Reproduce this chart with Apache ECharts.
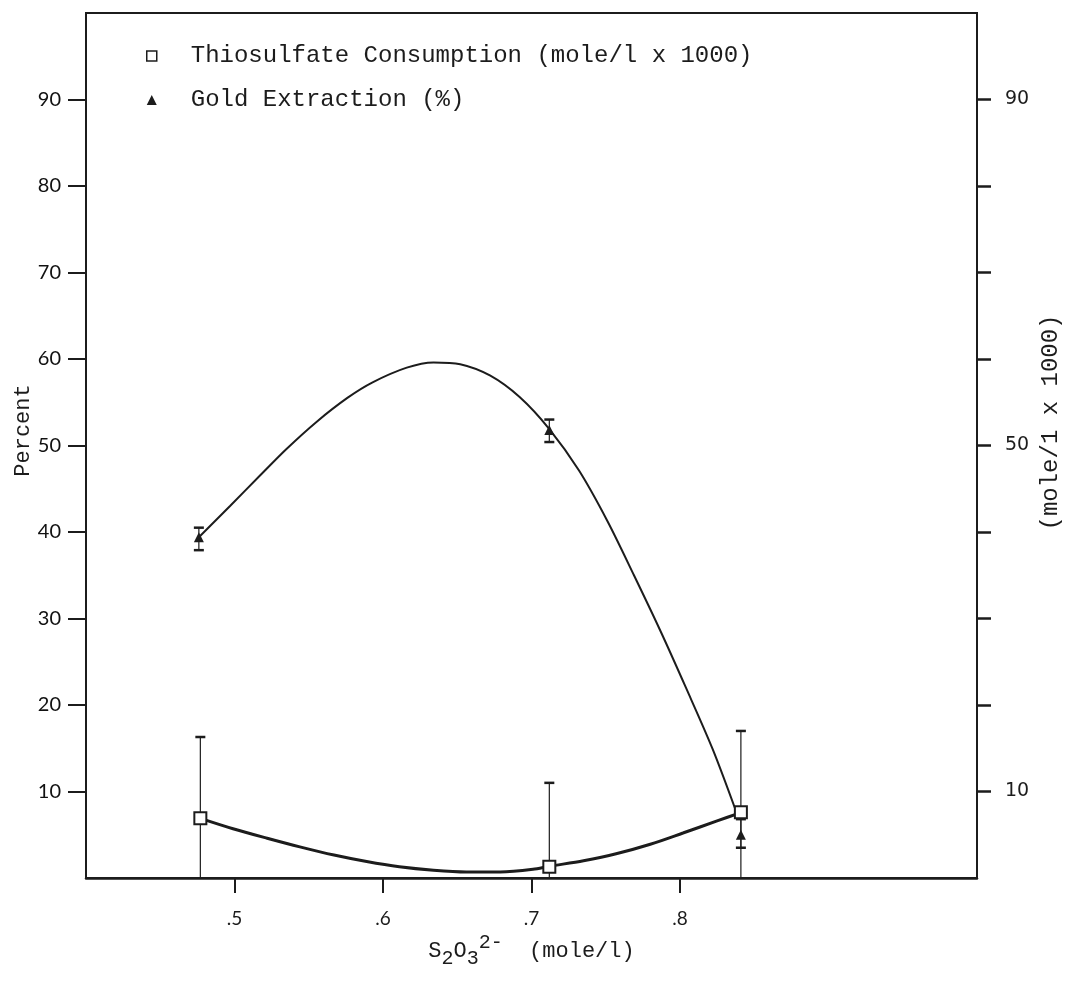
<!DOCTYPE html>
<html>
<head>
<meta charset="utf-8">
<script src="https://cdn.jsdelivr.net/npm/echarts@6/dist/echarts.min.js"></script>
<style>
html, body { margin: 0; padding: 0; background: #fff; }
#chart { width: 1065px; height: 988px; }
</style>
</head>
<body>
<div id="chart"></div>
<script>
// measured points (S2O3 conc, value)
var thioPts = [[0.477, 6.9], [0.712, 1.3], [0.841, 7.6]];
var thioLow = [0, 0, 0];
var thioHigh = [16.3, 11.0, 17.0];

var goldPts = [[0.476, 39.4], [0.712, 51.8], [0.841, 5.0]];
var goldLow = [37.9, 50.4, 3.5];
var goldHigh = [40.5, 53.0, 6.8];

// fitted curves
var thioCurve = [
    [0.477, 6.9], [0.499, 5.7], [0.522, 4.6], [0.544, 3.6], [0.567, 2.65],
    [0.589, 1.9], [0.611, 1.3], [0.634, 0.9], [0.656, 0.7], [0.679, 0.7],
    [0.701, 1.0], [0.712, 1.35], [0.735, 2.0], [0.757, 2.8], [0.780, 3.9],
    [0.802, 5.2], [0.825, 6.6], [0.840, 7.5]
];
var goldCurve = [
    [0.476, 39.4], [0.497, 43.0], [0.517, 46.5], [0.535, 49.6], [0.555, 52.7],
    [0.576, 55.5], [0.593, 57.3], [0.616, 59.0], [0.634, 59.6], [0.652, 59.4],
    [0.672, 58.1], [0.692, 55.6], [0.712, 51.9], [0.732, 47.1], [0.751, 41.3],
    [0.769, 35.0], [0.787, 28.5], [0.804, 22.0], [0.822, 14.9], [0.838, 7.6]
];

var xTicks = [0.5, 0.6, 0.7, 0.8];
var leftTicks = [10, 20, 30, 40, 50, 60, 70, 80, 90];
var rightTicks = [10, 20, 30, 40, 50, 60, 70, 80, 90];
var rightLabels = [10, 50, 90];

var thioName = 'Thiosulfate Consumption (mole/l x 1000)';
var goldName = 'Gold Extraction (%)';

var ink = '#1c1c1c';
var mono = '"Liberation Mono", "DejaVu Sans Mono", monospace';
var sans = 'Lato, "DejaVu Sans", sans-serif';

function errData(pts, lo, hi) {
    return pts.map(function (p, i) { return [p[0], lo[i], hi[i]]; });
}

function errRender(bottomCap) {
    return function (params, api) {
        var x = api.value(0);
        var top = api.coord([x, api.value(2)]);
        var bot = api.coord([x, api.value(1)]);
        var kids = [{
            type: 'line',
            shape: { x1: top[0], y1: top[1], x2: bot[0], y2: bot[1] },
            style: { stroke: ink, lineWidth: 1.2 }
        }, {
            type: 'line',
            shape: { x1: top[0] - 5, y1: top[1], x2: top[0] + 5, y2: top[1] },
            style: { stroke: ink, lineWidth: 2.5 }
        }];
        if (bottomCap) {
            kids.push({
                type: 'line',
                shape: { x1: bot[0] - 5, y1: bot[1], x2: bot[0] + 5, y2: bot[1] },
                style: { stroke: ink, lineWidth: 2.5 }
            });
        }
        return { type: 'group', children: kids };
    };
}

var chart = echarts.init(document.getElementById('chart'));

var option = {
    backgroundColor: '#fff',
    animation: false,
    grid: {
        left: 86, right: 88, top: 13, bottom: 110,
        outerBoundsMode: 'none',
        containLabel: false,
        show: true,
        borderColor: ink,
        borderWidth: 2
    },
    legend: {
        orient: 'vertical',
        left: 141,
        top: 39,
        itemGap: 20,
        itemWidth: 10,
        itemHeight: 10,
        selectedMode: false,
        textStyle: { fontFamily: mono, fontSize: 24, color: ink, padding: [0, 0, 0, 29] },
        data: [
            { name: thioName, icon: 'rect', itemStyle: { color: '#fff', borderColor: ink, borderWidth: 1.5 } },
            { name: goldName, icon: 'triangle', itemStyle: { color: ink, borderWidth: 0 } }
        ]
    },
    xAxis: {
        type: 'value',
        min: 0.4,
        max: 1.0,
        splitLine: { show: false },
        axisLine: { lineStyle: { color: ink, width: 2.5 } },
        axisTick: { customValues: xTicks, length: 15, lineStyle: { color: ink, width: 2 } },
        axisLabel: {
            customValues: xTicks,
            margin: 31,
            fontFamily: sans,
            fontSize: 19,
            color: ink,
            formatter: function (v) { return String(v).replace('0.', '.'); }
        },
        name: '{t|S}{sub|2}{t|O}{sub|3}{sup|2-}{t|  (mole/l)}',
        nameLocation: 'middle',
        nameGap: 55,
        nameMoveOverlap: false,
        nameTextStyle: {
            rich: {
                t: { fontFamily: mono, fontSize: 22, color: ink },
                sub: { fontFamily: mono, fontSize: 20, color: ink, verticalAlign: 'bottom', padding: [14, 0, 0, 0] },
                sup: { fontFamily: mono, fontSize: 20, color: ink, verticalAlign: 'top', padding: [0, 0, 16, 0] }
            }
        }
    },
    yAxis: [{
        type: 'value',
        position: 'left',
        min: 0,
        max: 100,
        interval: 10,
        splitLine: { show: false },
        axisLine: { show: true, lineStyle: { color: ink, width: 2 } },
        axisTick: { customValues: leftTicks, length: 18, lineStyle: { color: ink, width: 2 } },
        axisLabel: {
            customValues: leftTicks,
            margin: 25,
            fontFamily: sans,
            fontSize: 20,
            color: '#111'
        },
        name: 'Percent',
        nameLocation: 'middle',
        nameGap: 52,
        nameRotate: 90,
        nameMoveOverlap: false,
        nameTextStyle: { fontFamily: mono, fontSize: 22, color: ink, padding: [0, 0, 0, 30] }
    }, {
        type: 'value',
        position: 'right',
        min: 0,
        max: 100,
        interval: 10,
        splitLine: { show: false },
        axisLine: { show: true, lineStyle: { color: ink, width: 2 } },
        axisTick: { customValues: rightTicks, length: 14, lineStyle: { color: ink, width: 2.5 } },
        axisLabel: {
            customValues: rightLabels,
            margin: 28,
            fontFamily: '"DejaVu Sans", sans-serif',
            fontSize: 19,
            color: ink
        },
        name: '(mole/1 x 1000)',
        nameLocation: 'middle',
        nameGap: 62,
        nameRotate: 90,
        nameMoveOverlap: false,
        nameTextStyle: { fontFamily: mono, fontSize: 24, color: ink, padding: [0, 0, 0, 46] }
    }],
    series: [{
        name: 'thioCurve',
        type: 'line',
        yAxisIndex: 1,
        data: thioCurve,
        smooth: 0.3,
        showSymbol: false,
        lineStyle: { color: ink, width: 3 },
        z: 2
    }, {
        name: 'goldCurve',
        type: 'line',
        data: goldCurve,
        smooth: 0.3,
        showSymbol: false,
        lineStyle: { color: ink, width: 2 },
        z: 2
    }, {
        name: 'thioErr',
        type: 'custom',
        yAxisIndex: 1,
        data: errData(thioPts, thioLow, thioHigh),
        renderItem: errRender(false),
        z: 3
    }, {
        name: 'goldErr',
        type: 'custom',
        data: errData(goldPts, goldLow, goldHigh),
        renderItem: errRender(true),
        z: 3
    }, {
        name: thioName,
        type: 'scatter',
        yAxisIndex: 1,
        data: thioPts,
        symbol: 'rect',
        symbolSize: 12,
        itemStyle: { color: '#fff', borderColor: ink, borderWidth: 2, opacity: 1 },
        z: 4
    }, {
        name: goldName,
        type: 'scatter',
        data: goldPts,
        symbol: 'triangle',
        symbolSize: 10,
        itemStyle: { color: ink, opacity: 1 },
        z: 5
    }]
};

chart.setOption(option);
</script>
</body>
</html>
